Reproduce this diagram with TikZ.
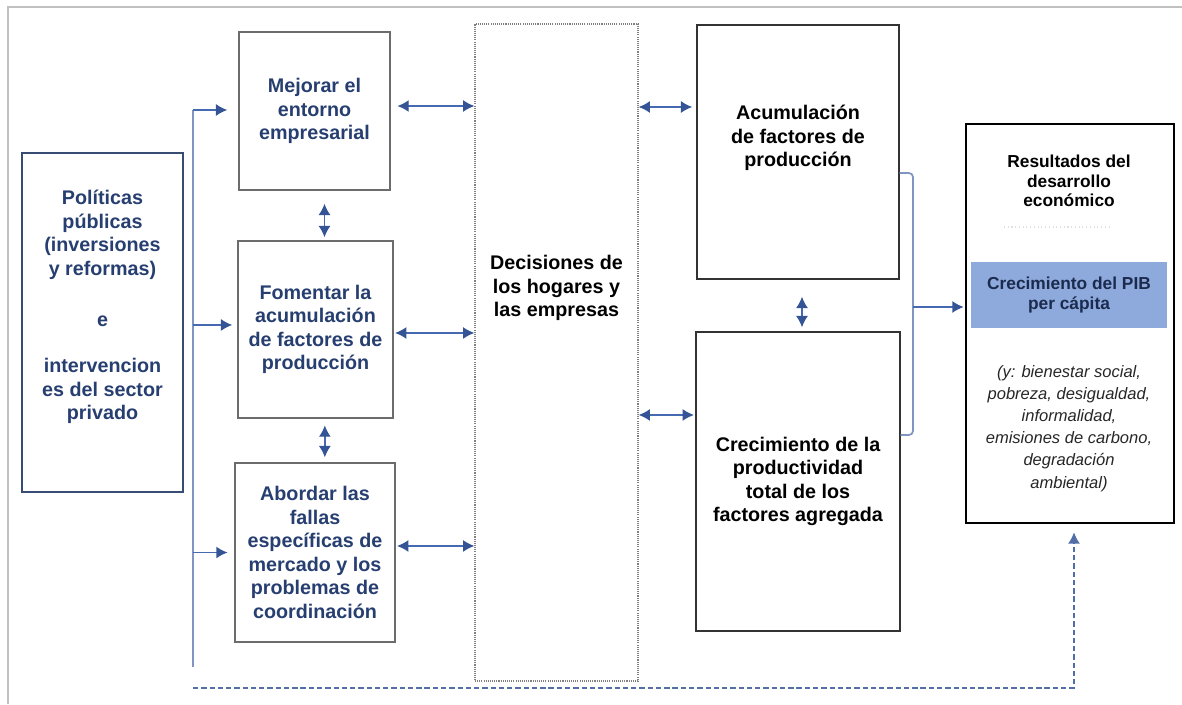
\documentclass[tikz,border=0pt]{standalone}
\usepackage{fontspec}
\setmainfont{Liberation Sans}
\usepackage{tikz}
\usetikzlibrary{arrows.meta, calc}

\definecolor{txtblue}{RGB}{38,62,112}
\definecolor{flowblue}{RGB}{70,106,178}
\definecolor{tipblue}{RGB}{52,84,150}
\definecolor{busblue}{RGB}{128,150,192}
\definecolor{pibblue}{RGB}{142,169,219}
\definecolor{framegray}{RGB}{192,192,192}

\tikzset{
	leverbox/.style={draw=gray!85!black, line width=1.1pt, align=center, text=txtblue,
		font=\fontsize{14.8}{17.6}\selectfont\bfseries},
	polbox/.style={draw=txtblue!80!gray, line width=1.1pt},
	channelbox/.style={draw=black!80, line width=1.1pt, align=center,
		font=\fontsize{14.8}{17.6}\selectfont\bfseries},
	boldtext/.style={align=center, inner sep=0pt, font=\fontsize{14.8}{17.6}\selectfont\bfseries},
	tip/.style={Latex[length=8.5pt,width=9pt,color=tipblue]},
	dbl/.style={flowblue, line width=1.1pt, {Latex[length=8.5pt,width=9pt,color=tipblue]}-{Latex[length=8.5pt,width=9pt,color=tipblue]}},
	feed/.style={flowblue, line width=1.1pt, -{Latex[length=8.5pt,width=9pt,color=tipblue]}},
	busline/.style={busblue, line width=1.3pt},
	fback/.style={flowblue!80!gray, line width=1.1pt, dash pattern=on 4pt off 2.2pt, -{Latex[length=8.5pt,width=9pt]}},
}

\begin{document}
\begin{tikzpicture}[x=0.75pt, y=-0.75pt]
	\useasboundingbox (0,0) rectangle (1182,704);

	% marco
	\draw[framegray, line width=1.5pt] (8,704) -- (8,7) -- (1182,7);

	% politicas
	\node[polbox, minimum width=120.75pt, minimum height=254.25pt] (pol) at (102.5,322.5) {};
	\node[boldtext, text=txtblue] (polT) at (102.5,307) {Políticas\\públicas\\(inversiones\\y reformas)\\[21pt]e\\[17pt]intervencion\\es del sector\\privado};

	% palancas
	\node[leverbox, minimum width=113.25pt, minimum height=118.5pt] (mej) at (314.5,111) {Mejorar el\\entorno\\empresarial};
	\node[leverbox, minimum width=116.25pt, minimum height=132.75pt] (fom) at (315.5,329.5) {Fomentar la\\acumulación\\de factores de\\producción};
	\node[leverbox, minimum width=120pt, minimum height=134.25pt] (abo) at (315,552.5) {Abordar las\\fallas\\específicas de\\mercado y los\\problemas de\\coordinación};

	% decisiones
	\node[draw=gray, line width=0.9pt, dash pattern=on 0.8pt off 0.8pt, minimum width=122.25pt, minimum height=492.75pt] (dec) at (556.5,352.5) {};
	\node[boldtext] (decT) at (556.5,288) {Decisiones de\\los hogares y\\las empresas};

	% canales
	\node[channelbox, minimum width=151.5pt, minimum height=190.5pt] (acu) at (798,152) {};
	\node[boldtext] (acuT) at (798,138) {Acumulación\\de factores de\\producción};
	\node[channelbox, minimum width=153pt, minimum height=224.25pt] (ptf) at (798,481.5) {Crecimiento de la\\productividad\\total de los\\factores agregada};

	% resultados
	\node[draw=black, line width=2pt, minimum width=156pt, minimum height=299.25pt] (res) at (1070,323.5) {};
	\node[boldtext, font=\fontsize{13}{14.5}\selectfont\bfseries] (resT) at (1069,181) {Resultados del\\desarrollo\\económico};
	\draw[gray!25, line width=0.8pt, dotted] (1004,227) -- (1110,227);
	\node[fill=pibblue, minimum width=147pt, minimum height=49.5pt, align=center, text=txtblue!70!black,
		font=\fontsize{13}{15}\selectfont\bfseries] (pib) at (1069,295) {Crecimiento del PIB\\per cápita};
	\node[align=center, inner sep=0pt, text=black!85, font=\fontsize{12.4}{16.6}\selectfont\itshape] (otros) at (1069,428.5)
		{(y: bienestar social,\\pobreza, desigualdad,\\informalidad,\\emisiones de carbono,\\degradación\\ambiental)};

	% bus de entrada
	\coordinate (busT) at (193,110);
	\coordinate (busB) at (193,667);
	\draw[busline] (busT) -- (busB);
	\draw[feed, shorten >=8.25pt] (busT) -- (busT -| mej.west);
	\draw[feed, shorten >=3.75pt] ([yshift=3.4pt]fom.west -| busT) -- ([yshift=3.4pt]fom.west);
	\draw[feed, shorten >=5pt] (abo.west -| busT) -- (abo.west);

	% flechas dobles
	\draw[dbl, shorten <=5pt] ([yshift=3.75pt]mej.east) -- ([yshift=3.75pt]mej.east -| dec.west);
	\draw[dbl, shorten <=1pt] ([yshift=-2.6pt]fom.east) -- ([yshift=-2.6pt]fom.east -| dec.west);
	\draw[dbl, shorten <=1pt] ([yshift=4.9pt]abo.east) -- ([yshift=4.9pt]abo.east -| dec.west);
	\draw[dbl, shorten >=3pt] ([yshift=33.75pt]acu.west -| dec.east) -- ([yshift=33.75pt]acu.west);
	\draw[dbl, shorten >=1pt] ([yshift=49.9pt]ptf.west -| dec.east) -- ([yshift=49.9pt]ptf.west);

	\draw[dbl, shorten <=9.75pt, shorten >=2.25pt] ([xshift=7.5pt]mej.south) -- ([xshift=7.5pt]mej.south |- fom.north);
	\draw[dbl, shorten <=5pt, shorten >=3.75pt] ([xshift=7pt]fom.south) -- ([xshift=7pt]fom.south |- abo.north);
	\draw[dbl, shorten <=12.75pt, shorten >=3pt] ([xshift=3pt]acu.south) -- ([xshift=3pt]acu.south |- ptf.north);

	% llave hacia resultados
	\coordinate (brk) at (913,307);
	\draw[busline, rounded corners=3pt] ([yshift=-15.75pt]acu.east) -| (brk) |- ([yshift=34.9pt]ptf.east);
	\draw[feed, shorten >=0.75pt] (brk) -- (brk -| res.west);

	% retroalimentacion
	\coordinate (fbS) at (193,688);
	\draw[fback, shorten >=6pt] (fbS) -| ([xshift=3pt]res.south);
\end{tikzpicture}
\end{document}
